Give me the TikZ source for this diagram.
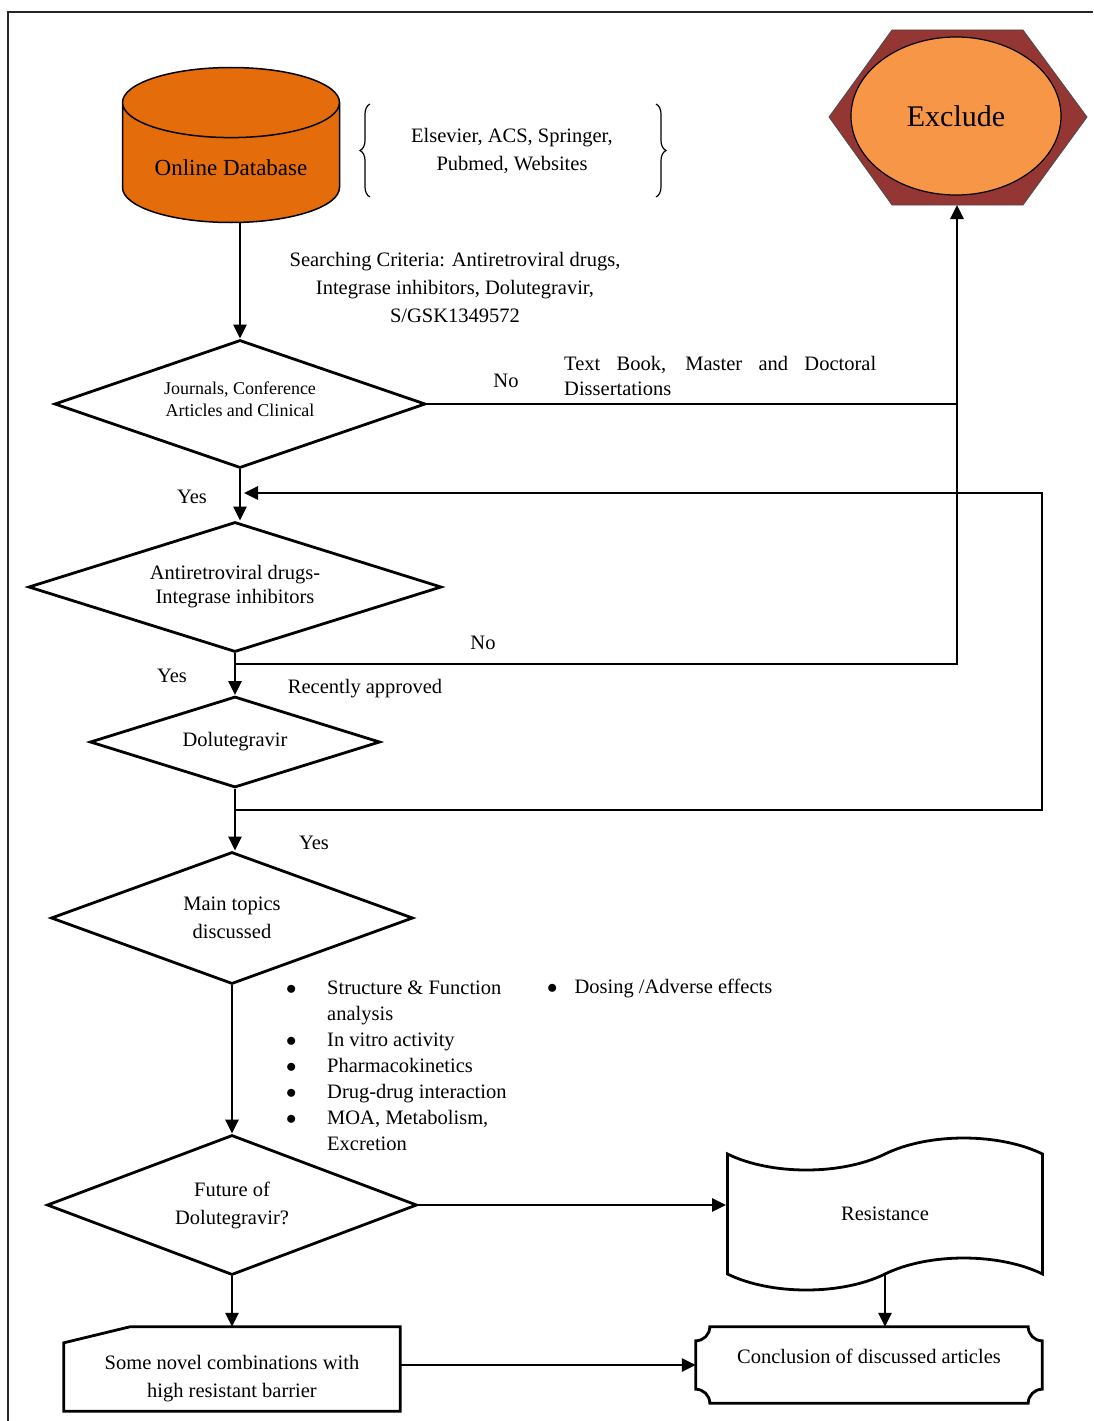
\documentclass[tikz,border=0pt]{standalone}
\usepackage{fontspec}
\setmainfont{Liberation Serif}
\usetikzlibrary{shapes.geometric,shapes.symbols,arrows.meta,decorations.pathreplacing}

\definecolor{dbfill}{HTML}{E46C0A}
\definecolor{hexfill}{HTML}{943634}
\definecolor{exclfill}{HTML}{F79646}

\begin{document}
\begin{tikzpicture}[x=1pt,y=-1pt,
        every node/.style={font=\fontsize{20.5}{28}\selectfont, align=center},
        line/.style={line width=2.8pt},
        arr/.style={line width=2.8pt, -{Triangle[length=14pt,width=13pt]}},
        choice/.style={diamond, draw, line width=2.8pt, inner sep=0pt}]
        \useasboundingbox (0,0) rectangle (1093,1421);
        \draw[line width=1.2pt, black!85] (8,1421) -- (8,12) -- (1093,12);

        \node[cylinder, shape border rotate=90, aspect=0.44, draw, line width=1.5pt, fill=dbfill, minimum width=217pt, minimum height=155pt, font=\fontsize{23}{28}\selectfont, anchor=shape center] (db) at (231,145) {Online Database};

        \fill[hexfill, draw=black!70, line width=0.8pt] (892,30) -- (1023,30) -- (1087,117) -- (1023,205) -- (892,205) -- (829,117) -- cycle;
        \node[ellipse, draw, line width=1.2pt, fill=exclfill, minimum width=210pt, minimum height=158pt, font=\fontsize{30}{36}\selectfont] (excl) at (956,116) {Exclude};
        \coordinate (hexbot) at (957,205);

        \draw[line width=1.2pt, decorate, decoration={brace, amplitude=10pt}] (370,197) -- (370,104);
        \draw[line width=1.2pt, decorate, decoration={brace, amplitude=10pt}] (656,104) -- (656,197);
        \node (src) at (512,151) {Elsevier, ACS, Springer,\\Pubmed, Websites};
        \node (crit) at (455,287) {Searching Criteria: Antiretroviral drugs,\\Integrase inhibitors, Dolutegravir,\\S/GSK1349572};

        \node[choice, aspect=2.9, minimum width=371pt, minimum height=128pt, font=\fontsize{18}{22}\selectfont] (d1) at (240,404) {Journals, Conference\\Articles and Clinical\\[-12pt]};
        \node[choice, aspect=3.18, minimum width=413pt, minimum height=130pt, font=\fontsize{20.5}{24}\selectfont] (d2) at (235,587) {Antiretroviral drugs-\\Integrase inhibitors};
        \node[choice, aspect=3.19, minimum width=290pt, minimum height=91pt] (d3) at (235,742) {Dolutegravir};
        \node[choice, aspect=2.74, minimum width=362pt, minimum height=132pt] (d4) at (232,918) {Main topics\\discussed};
        \node[choice, aspect=2.64, minimum width=370pt, minimum height=140pt] (d5) at (232,1205) {Future of\\Dolutegravir?};

        \node[tape, draw, line width=2.8pt, minimum width=315pt, minimum height=152pt, tape bend height=32pt] (res) at (885,1214) {Resistance};
        \node[minimum width=336pt, minimum height=84pt] (novel) at (232,1369) {\rule{0pt}{34pt}Some novel combinations with\\high resistant barrier};
        \node[minimum width=346pt, minimum height=76pt] (concl) at (869,1365) {Conclusion of discussed articles\\[-10pt]};

        \draw[line] ([yshift=-16pt]novel.north west) -- ([xshift=66pt]novel.north west) -- (novel.north east) -- (novel.south east) -- (novel.south west) -- cycle;
        \draw[line] ([xshift=14pt]concl.north west) -- ([xshift=-14pt]concl.north east)
            arc[start angle=180, end angle=270, radius=14pt] -- ([yshift=14pt]concl.south east)
            arc[start angle=90, end angle=180, radius=14pt] -- ([xshift=14pt]concl.south west)
            arc[start angle=0, end angle=90, radius=14pt] -- ([yshift=-14pt]concl.north west)
            arc[start angle=270, end angle=360, radius=14pt] -- cycle;

        \begin{scope}
            \clip (550,340) rectangle (900,397);
            \node[anchor=north west, inner sep=0pt, text width=312pt, align=justify, font=\fontsize{20.5}{25}\selectfont] (books) at (564,356) {Text Book, Master and Doctoral \mbox{Dissertations}};
        \end{scope}

        \node[anchor=north west, inner sep=0pt, align=left, font=\fontsize{20.5}{26}\selectfont] (topics) at (286,976) {\begin{tabular}{@{}p{41pt}@{}l@{}}
            $\bullet$ & Structure \& Function\\
            & analysis\\
            $\bullet$ & In vitro activity\\
            $\bullet$ & Pharmacokinetics\\
            $\bullet$ & Drug-drug interaction\\
            $\bullet$ & MOA, Metabolism,\\
            & Excretion
        \end{tabular}};
        \node[anchor=north west, inner sep=0pt] (dosing) at (547,979) {$\bullet$\hspace{17pt}Dosing /Adverse effects};

        \node (yes1) at (192,497) {Yes};
        \node (no1) at (506,381) {No};
        \node (no2) at (483,643) {No};
        \node (yes2) at (172,676) {Yes};
        \node (recent) at (365,689) {Recently approved};
        \node (yes3) at (314,843) {Yes};

        \coordinate (j1) at (957,404);
        \coordinate (j2) at (957,664);
        \coordinate (r1) at (1042,810);
        \coordinate (r2) at (1042,493);
        \coordinate (fb) at (244,493);

        \draw[arr] (d1.north |- db.south) -- (d1.north);
        \draw[line] (d1.east) -- (j1);
        \draw[arr] (d1.south) -- (d1.south |- d2.north);
        \draw[arr] (d2.south) -- (d3.north);
        \draw[arr] (d2.south) |- (j2) -- (hexbot);
        \draw[arr] (d3.south) -- (d3.south |- d4.north);
        \draw[arr] (d3.south) |- (r1) -- (r2) -- (fb);
        \draw[arr] (d4.south) -- (d5.north);
        \draw[arr] (d5.east) -- (d5.east -| res.west);
        \draw[arr] (d5.south) -- (novel.north);
        \draw[arr] (res.south) -- (res.south |- concl.north);
        \draw[arr] (novel.east |- concl.west) -- (concl.west);
    \end{tikzpicture}
\end{document}
